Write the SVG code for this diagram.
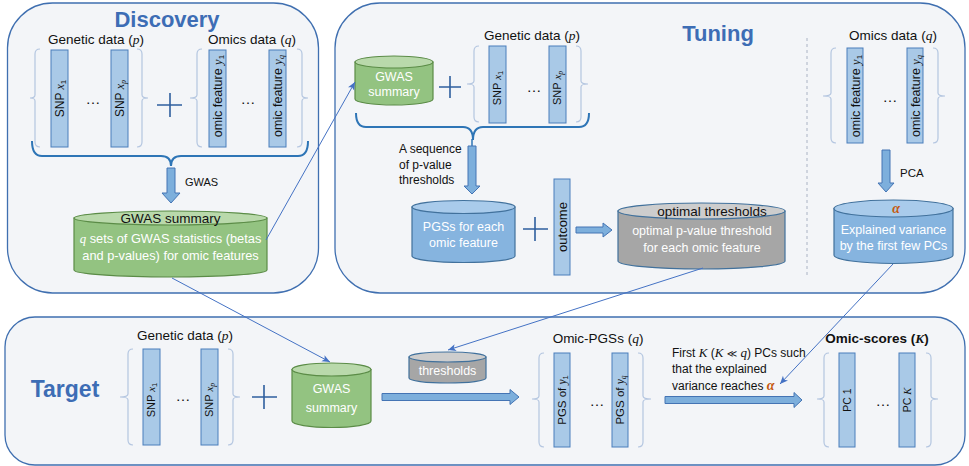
<svg xmlns="http://www.w3.org/2000/svg" width="969" height="466" viewBox="0 0 969 466">
<defs>
<style>
.panel{fill:#f3f5f8;stroke:#3f6fb0;stroke-width:1.3}
.title{font-family:"Liberation Sans",Arial,sans-serif;font-weight:bold;font-size:22px;fill:#3d6db5;text-anchor:middle}
.lbl{font-family:"Liberation Sans",Arial,sans-serif;font-size:13.5px;fill:#111;text-anchor:middle}
.txt{font-family:"Liberation Sans",Arial,sans-serif;font-size:12px;fill:#111}
.m{font-family:"Liberation Serif","DejaVu Serif",serif;font-style:italic}
.bar{fill:#a9c9e7;stroke:#4a7ebb;stroke-width:1}
.brk{fill:none;stroke:#b4c6e0;stroke-width:1.2}
.brace{fill:none;stroke:#2e75b6;stroke-width:2}
.plus{stroke:#2f5f9e;stroke-width:1.6;fill:none}
.bt{font-family:"Liberation Sans",Arial,sans-serif;font-size:12px;fill:#111;text-anchor:middle}
.wt{font-family:"Liberation Sans",Arial,sans-serif;font-size:12.5px;fill:#fff;text-anchor:middle}
.bk{font-family:"Liberation Sans",Arial,sans-serif;font-size:13.5px;fill:#111;text-anchor:middle}
.dots{font-family:"Liberation Sans",Arial,sans-serif;font-size:15px;fill:#111;text-anchor:middle}
.blk{fill:#7dafdc;stroke:#4474b4;stroke-width:1}
.conn{stroke:#4472c4;stroke-width:1;fill:none;marker-end:url(#ah)}
.gside{fill:#93c381;stroke:#5b8c47;stroke-width:1.2}
.gtop{fill:#b9d9ab;stroke:#5b8c47;stroke-width:1.2}
.bside{fill:#86b4df;stroke:#41719c;stroke-width:1.2}
.btop{fill:#a9cbeb;stroke:#41719c;stroke-width:1.2}
.yside{fill:#a6a6a6;stroke:#41719c;stroke-width:1.2}
.ytop{fill:#cdcdcd;stroke:#41719c;stroke-width:1.2}
.alpha{fill:#c55a11;font-family:"Liberation Serif","DejaVu Serif",serif;font-style:italic;font-weight:bold}
</style>
<marker id="ah" markerWidth="9" markerHeight="8" refX="8" refY="4" orient="auto" markerUnits="userSpaceOnUse">
<path d="M0,0.5 L8,4 L0,7.5 L2,4 z" fill="#4472c4"/>
</marker>
</defs>

<!-- Panels -->
<g id="panel-discovery">
<rect class="panel" x="7.5" y="3" width="311" height="290" rx="45"/>
<text class="title" x="167" y="27">Discovery</text>
</g>
<g id="panel-tuning">
<rect class="panel" x="335" y="3" width="630" height="290" rx="45"/>
<text class="title" x="718" y="41">Tuning</text>
<line x1="807" y1="38" x2="807" y2="278" stroke="#aab3c4" stroke-width="1" stroke-dasharray="3,3"/>
</g>
<g id="panel-target">
<rect class="panel" x="5" y="317" width="960" height="148" rx="30"/>
<text class="title" x="65" y="397" style="font-size:23px">Target</text>
</g>

<!-- Discovery: genetic data -->
<g id="disc-genetic">
<text class="lbl" x="96" y="44">Genetic data (<tspan class="m">p</tspan>)</text>
<path class="brk" d="M40,49 Q35,49 35,54 V95 Q35,98 30,98 Q35,98 35,101 V142 Q35,147 40,147"/>
<path class="brk" d="M137,49 Q142,49 142,54 V95 Q142,98 148,98 Q142,98 142,101 V142 Q142,147 137,147"/>
<rect class="bar" x="51" y="50" width="17" height="97"/>
<text class="bt" transform="translate(59.5,98.5) rotate(-90)" dy="0.36em">SNP <tspan class="m">x</tspan><tspan font-size="8" dy="2">1</tspan></text>
<text class="dots" x="93" y="104">…</text>
<rect class="bar" x="111" y="50" width="17" height="97"/>
<text class="bt" transform="translate(119.5,98.5) rotate(-90)" dy="0.36em">SNP <tspan class="m">x</tspan><tspan class="m" font-size="8" dy="2">p</tspan></text>
</g>
<g id="disc-plus"><path class="plus" d="M157,105 H182 M170,93 V117"/></g>
<g id="disc-omics">
<text class="lbl" x="252" y="44">Omics data (<tspan class="m">q</tspan>)</text>
<path class="brk" d="M202,49 Q197,49 197,54 V95 Q197,98 190,98 Q197,98 197,101 V142 Q197,147 202,147"/>
<path class="brk" d="M297,49 Q302,49 302,54 V95 Q302,98 308,98 Q302,98 302,101 V142 Q302,147 297,147"/>
<rect class="bar" x="209" y="50" width="17" height="97"/>
<text class="bt" style="font-size:12.5px" transform="translate(217.5,96) rotate(-90)" dy="0.36em">omic feature <tspan class="m">y</tspan><tspan font-size="8" dy="2">1</tspan></text>
<text class="dots" x="248" y="104">…</text>
<rect class="bar" x="269" y="50" width="17" height="97"/>
<text class="bt" style="font-size:12.5px" transform="translate(277.5,96) rotate(-90)" dy="0.36em">omic feature <tspan class="m">y</tspan><tspan class="m" font-size="8" dy="2">q</tspan></text>
</g>
<g id="disc-brace">
<path class="brace" d="M32,141 Q32,156 42,156 L161,156 Q171,156 171,166 Q171,156 181,156 L298,156 Q308,156 308,141"/>
</g>
<g id="disc-gwas-arrow">
<polygon class="blk" points="167,168 175,168 175,193 180,193 171,203 162,193 167,193"/>
<text class="txt" x="185" y="186" style="font-size:11px">GWAS</text>
</g>
<g id="disc-gwas-summary">
<path class="gside" d="M74,218 V270 A96.5,7 0 0 0 267,270 V218 Z"/>
<ellipse class="gtop" cx="170.5" cy="218" rx="96.5" ry="7"/>
<text class="bk" x="170.5" y="223" style="font-size:13.5px">GWAS summary</text>
<text class="wt" x="170.5" y="243" style="font-size:12.8px"><tspan class="m">q</tspan> sets of GWAS statistics (betas</text>
<text class="wt" x="170.5" y="260" style="font-size:12.8px">and p-values) for omic features</text>
</g>

<!-- Tuning -->
<g id="tun-gwas">
<path class="gside" d="M355,62 V99 A39,6 0 0 0 433,99 V62 Z"/>
<ellipse class="gtop" cx="394" cy="62" rx="39" ry="6"/>
<text class="wt" x="394" y="81">GWAS</text>
<text class="wt" x="394" y="96">summary</text>
</g>
<g id="tun-plus"><path class="plus" d="M439,87 H461 M450,76 V98"/></g>
<g id="tun-genetic">
<text class="lbl" x="532" y="40">Genetic data (<tspan class="m">p</tspan>)</text>
<path class="brk" d="M479,46 Q474,46 474,51 V81 Q474,84 467,84 Q474,84 474,87 V117 Q474,122 479,122"/>
<path class="brk" d="M576,46 Q581,46 581,51 V81 Q581,84 588,84 Q581,84 581,87 V117 Q581,122 576,122"/>
<rect class="bar" x="489" y="46" width="17" height="77"/>
<text class="bt" style="font-size:11px" transform="translate(497.5,88) rotate(-90)" dy="0.36em">SNP <tspan class="m">x</tspan><tspan font-size="7.5" dy="2">1</tspan></text>
<text class="dots" x="534" y="92">…</text>
<rect class="bar" x="549" y="46" width="17" height="77"/>
<text class="bt" style="font-size:11px" transform="translate(557.5,88) rotate(-90)" dy="0.36em">SNP <tspan class="m">x</tspan><tspan class="m" font-size="7.5" dy="2">p</tspan></text>
</g>
<g id="tun-brace">
<path class="brace" d="M356,113 Q356,127 366,127 L463,127 Q473,127 473,140 Q473,127 483,127 L579,127 Q589,127 589,113"/>
<line x1="472" y1="139" x2="472" y2="146" stroke="#2e75b6" stroke-width="1.5"/>
</g>
<g id="tun-seq-arrow">
<polygon class="blk" points="468,146 476,146 476,186 480,186 472,194 464,186 468,186"/>
<text class="txt" x="399" y="153">A sequence</text>
<text class="txt" x="399" y="169">of p-value</text>
<text class="txt" x="399" y="184">thresholds</text>
</g>
<g id="tun-pgs">
<path class="bside" d="M412,207 V256 A51.5,6.5 0 0 0 515,256 V207 Z"/>
<ellipse class="btop" cx="463.5" cy="207" rx="51.5" ry="6.5"/>
<text class="wt" x="463.5" y="231">PGSs for each</text>
<text class="wt" x="463.5" y="247">omic feature</text>
</g>
<g id="tun-plus2"><path class="plus" d="M523,229 H548 M535,217 V241"/></g>
<g id="tun-outcome">
<rect class="bar" x="554" y="179" width="16" height="96"/>
<text class="bt" style="font-size:13px" transform="translate(562,227) rotate(-90)" dy="0.36em">outcome</text>
</g>
<g id="tun-out-arrow">
<polygon class="blk" points="576,227 603,227 603,223 612,230 603,237 603,233 576,233"/>
</g>
<g id="tun-optimal">
<path class="yside" d="M618,211 V261 A83.5,8 0 0 0 785,261 V211 Z"/>
<ellipse class="ytop" cx="701.5" cy="211" rx="83.5" ry="8"/>
<text class="bk" x="712" y="216">optimal thresholds</text>
<text class="wt" x="702" y="235">optimal p-value threshold</text>
<text class="wt" x="702" y="252">for each omic feature</text>
</g>
<g id="tun-omics">
<text class="lbl" x="893" y="40">Omics data (<tspan class="m">q</tspan>)</text>
<path class="brk" d="M836,48 Q831,48 831,53 V93 Q831,96 823,96 Q831,96 831,99 V138 Q831,143 836,143"/>
<path class="brk" d="M933,48 Q938,48 938,53 V93 Q938,96 945,96 Q938,96 938,99 V138 Q938,143 933,143"/>
<rect class="bar" x="847" y="48" width="16" height="95"/>
<text class="bt" style="font-size:12.5px" transform="translate(855,96) rotate(-90)" dy="0.36em">omic feature <tspan class="m">y</tspan><tspan font-size="8" dy="2">1</tspan></text>
<text class="dots" x="890" y="102">…</text>
<rect class="bar" x="907" y="48" width="16" height="95"/>
<text class="bt" style="font-size:12.5px" transform="translate(915,96) rotate(-90)" dy="0.36em">omic feature <tspan class="m">y</tspan><tspan class="m" font-size="8" dy="2">q</tspan></text>
</g>
<g id="tun-pca">
<polygon class="blk" points="882,150 890,150 890,183 894,183 886,192 878,183 882,183"/>
<text class="txt" x="900" y="177" style="font-size:11.5px">PCA</text>
</g>
<g id="tun-explained">
<path class="bside" d="M834,208.5 V255 A59.5,8.5 0 0 0 953,255 V208.5 Z"/>
<ellipse class="btop" cx="893.5" cy="208.5" rx="59.5" ry="8.5"/>
<text class="alpha" x="896" y="213" font-size="14" text-anchor="middle">α</text>
<text class="wt" x="893.5" y="234">Explained variance</text>
<text class="wt" x="893.5" y="250">by the first few PCs</text>
</g>

<!-- Target -->
<g id="tgt-genetic">
<text class="lbl" x="185" y="340">Genetic data (<tspan class="m">p</tspan>)</text>
<path class="brk" d="M133,349 Q128,349 128,354 V394 Q128,397 120,397 Q128,397 128,400 V440 Q128,445 133,445"/>
<path class="brk" d="M228,349 Q233,349 233,354 V394 Q233,397 240,397 Q233,397 233,400 V440 Q233,445 228,445"/>
<rect class="bar" x="143" y="349" width="17" height="96"/>
<text class="bt" style="font-size:11px" transform="translate(151.5,400) rotate(-90)" dy="0.36em">SNP <tspan class="m">x</tspan><tspan font-size="7.5" dy="2">1</tspan></text>
<text class="dots" x="183" y="401">…</text>
<rect class="bar" x="201" y="349" width="17" height="96"/>
<text class="bt" style="font-size:11px" transform="translate(209.5,400) rotate(-90)" dy="0.36em">SNP <tspan class="m">x</tspan><tspan class="m" font-size="7.5" dy="2">p</tspan></text>
</g>
<g id="tgt-plus"><path class="plus" d="M252,397 H277 M264,385 V409"/></g>
<g id="tgt-gwas">
<path class="gside" d="M292,369.5 V421 A39.5,6.5 0 0 0 371,421 V369.5 Z"/>
<ellipse class="gtop" cx="331.5" cy="369.5" rx="39.5" ry="6.5"/>
<text class="wt" x="331.5" y="393">GWAS</text>
<text class="wt" x="331.5" y="412">summary</text>
</g>
<g id="tgt-thresholds">
<path class="yside" d="M409,357 V378 A38.5,5 0 0 0 486,378 V357 Z"/>
<ellipse class="ytop" cx="447.5" cy="357" rx="38.5" ry="5"/>
<text class="wt" x="447.5" y="375">thresholds</text>
</g>
<g id="tgt-arrow1">
<polygon class="blk" points="382,393.5 510,393.5 510,389.5 519,397 510,404.5 510,400.5 382,400.5"/>
</g>
<g id="tgt-pgs">
<text class="lbl" x="598" y="343">Omic-PGSs (<tspan class="m">q</tspan>)</text>
<path class="brk" d="M544,353 Q539,353 539,358 V396 Q539,399 532,399 Q539,399 539,402 V442 Q539,447 544,447"/>
<path class="brk" d="M638,353 Q643,353 643,358 V396 Q643,399 651,399 Q643,399 643,402 V442 Q643,447 638,447"/>
<rect class="bar" x="554" y="353" width="16" height="94"/>
<text class="bt" style="font-size:11.5px" transform="translate(562,400) rotate(-90)" dy="0.36em">PGS of <tspan class="m">y</tspan><tspan font-size="7.5" dy="2">1</tspan></text>
<text class="dots" x="597" y="406">…</text>
<rect class="bar" x="612" y="353" width="16" height="94"/>
<text class="bt" style="font-size:11.5px" transform="translate(620,400) rotate(-90)" dy="0.36em">PGS of <tspan class="m">y</tspan><tspan class="m" font-size="7.5" dy="2">q</tspan></text>
</g>
<g id="tgt-pc-text">
<text class="txt" x="672" y="357">First <tspan class="m" font-size="13">K</tspan> (<tspan class="m" font-size="13">K</tspan> <tspan font-family="DejaVu Sans, sans-serif" font-size="10">≪</tspan> <tspan class="m" font-size="13">q</tspan>) PCs such</text>
<text class="txt" x="672" y="373">that the explained</text>
<text class="txt" x="672" y="390">variance reaches <tspan class="alpha" font-size="14">α</tspan></text>
</g>
<g id="tgt-arrow2">
<polygon class="blk" points="665,396.5 794,396.5 794,392.5 802,400 794,407.5 794,403.5 665,403.5"/>
</g>
<g id="tgt-scores">
<text class="lbl" x="877" y="343" font-weight="bold">Omic-scores (<tspan class="m">K</tspan>)</text>
<path class="brk" d="M829,353 Q824,353 824,358 V396 Q824,399 817,399 Q824,399 824,402 V442 Q824,447 829,447"/>
<path class="brk" d="M926,353 Q931,353 931,358 V396 Q931,399 938,399 Q931,399 931,402 V442 Q931,447 926,447"/>
<rect class="bar" x="839" y="353" width="16" height="94"/>
<text class="bt" style="font-size:10.5px" transform="translate(847,400) rotate(-90)" dy="0.36em">PC 1</text>
<text class="dots" x="883" y="406">…</text>
<rect class="bar" x="899" y="353" width="16" height="94"/>
<text class="bt" style="font-size:10.5px" transform="translate(907,400) rotate(-90)" dy="0.36em">PC <tspan class="m">K</tspan></text>
</g>

<!-- Connectors -->
<g id="connectors">
<line class="conn" x1="266" y1="240" x2="355" y2="82"/>
<line class="conn" x1="172" y1="278" x2="330" y2="362"/>
<line class="conn" x1="703" y1="268" x2="448" y2="350"/>
<line class="conn" x1="893" y1="264" x2="780" y2="384"/>
</g>
</svg>
